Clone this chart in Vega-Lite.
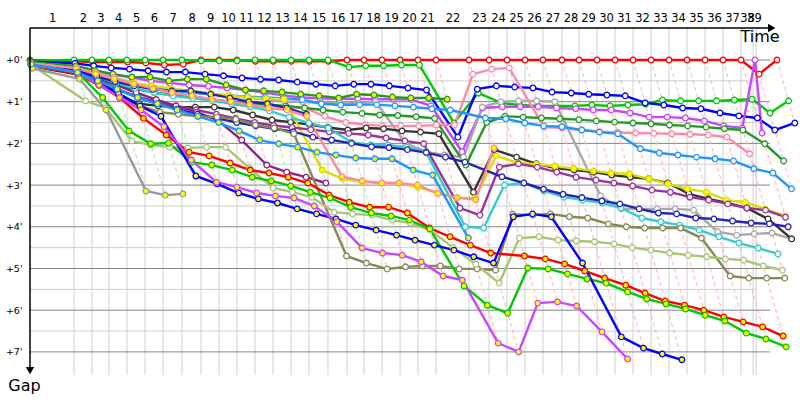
{
"$schema":"https://vega.github.io/schema/vega-lite/v6.json",
"width":770,"height":347,
"autosize":{"type":"none"},
"padding":{"left":30,"top":28,"right":0,"bottom":25},
"background":"#ffffff",
"config":{"view":{"stroke":null},"font":"DejaVu Sans"},
"resolve":{"axis":{"x":"independent","y":"independent"}},
"datasets":{
"laps":[{"lap":1,"t":3.73},{"lap":2,"t":5.25},{"lap":3,"t":6.69},{"lap":4,"t":8.22},{"lap":5,"t":9.75},{"lap":6,"t":11.27},{"lap":7,"t":12.88},{"lap":8,"t":14.49},{"lap":9,"t":16.02},{"lap":10,"t":17.54},{"lap":11,"t":19.07},{"lap":12,"t":20.59},{"lap":13,"t":22.12},{"lap":14,"t":23.64},{"lap":15,"t":25.25},{"lap":16,"t":26.86},{"lap":17,"t":28.31},{"lap":18,"t":29.83},{"lap":19,"t":31.36},{"lap":20,"t":32.88},{"lap":21,"t":34.41},{"lap":22,"t":37.2},{"lap":23,"t":38.9},{"lap":24,"t":40.42},{"lap":25,"t":41.95},{"lap":26,"t":43.47},{"lap":27,"t":45.08},{"lap":28,"t":46.53},{"lap":29,"t":48.05},{"lap":30,"t":49.58},{"lap":31,"t":51.1},{"lap":32,"t":52.63},{"lap":33,"t":54.15},{"lap":34,"t":55.68},{"lap":35,"t":57.2},{"lap":36,"t":58.73},{"lap":37,"t":60.25},{"lap":38,"t":61.27},{"lap":39,"t":61.53}],
"major":[{"gap":0},{"gap":1},{"gap":2},{"gap":3},{"gap":4},{"gap":5},{"gap":6},{"gap":7}],
"minor":[{"gap":0.5},{"gap":1.5},{"gap":2.5},{"gap":3.5},{"gap":4.5},{"gap":5.5},{"gap":6.5}],
"race":[
{"car":"r","lap":0,"t":0,"gap":0},{"car":"r","lap":1,"t":3.76,"gap":0.03},{"car":"r","lap":2,"t":5.3,"gap":0.05},{"car":"r","lap":3,"t":6.74,"gap":0.05},{"car":"r","lap":4,"t":8.27,"gap":0.05},{"car":"r","lap":5,"t":9.82,"gap":0.07},{"car":"r","lap":6,"t":11.39,"gap":0.12},{"car":"r","lap":7,"t":12.98,"gap":0.1},{"car":"r","lap":8,"t":14.49,"gap":0},{"car":"r","lap":9,"t":16.02,"gap":0},{"car":"r","lap":10,"t":17.54,"gap":0},{"car":"r","lap":11,"t":19.1,"gap":0.03},{"car":"r","lap":12,"t":20.62,"gap":0.03},{"car":"r","lap":13,"t":22.15,"gap":0.03},{"car":"r","lap":14,"t":23.67,"gap":0.03},{"car":"r","lap":15,"t":25.28,"gap":0.03},{"car":"r","lap":16,"t":26.86,"gap":0},{"car":"r","lap":17,"t":28.31,"gap":0},{"car":"r","lap":18,"t":29.83,"gap":0},{"car":"r","lap":19,"t":31.36,"gap":0},{"car":"r","lap":20,"t":32.88,"gap":0},{"car":"r","lap":21,"t":34.41,"gap":0},{"car":"r","lap":22,"t":37.2,"gap":0},{"car":"r","lap":23,"t":38.9,"gap":0},{"car":"r","lap":24,"t":40.42,"gap":0},{"car":"r","lap":25,"t":41.95,"gap":0},{"car":"r","lap":26,"t":43.47,"gap":0},{"car":"r","lap":27,"t":45.08,"gap":0},{"car":"r","lap":28,"t":46.53,"gap":0},{"car":"r","lap":29,"t":48.05,"gap":0},{"car":"r","lap":30,"t":49.58,"gap":0},{"car":"r","lap":31,"t":51.1,"gap":0},{"car":"r","lap":32,"t":52.63,"gap":0},{"car":"r","lap":33,"t":54.15,"gap":0},{"car":"r","lap":34,"t":55.68,"gap":0},{"car":"r","lap":35,"t":57.2,"gap":0},{"car":"r","lap":36,"t":58.73,"gap":0},{"car":"r","lap":37,"t":60.25,"gap":0},{"car":"r","lap":38,"t":61.78,"gap":0.34},{"car":"r","lap":39,"t":63.3,"gap":0},
{"car":"g","lap":0,"t":0.02,"gap":0.02},{"car":"g","lap":1,"t":3.73,"gap":0},{"car":"g","lap":2,"t":5.25,"gap":0},{"car":"g","lap":3,"t":6.69,"gap":0},{"car":"g","lap":4,"t":8.22,"gap":0},{"car":"g","lap":5,"t":9.75,"gap":0},{"car":"g","lap":6,"t":11.27,"gap":0},{"car":"g","lap":7,"t":12.88,"gap":0},{"car":"g","lap":8,"t":14.51,"gap":0.02},{"car":"g","lap":9,"t":16.04,"gap":0.02},{"car":"g","lap":10,"t":17.56,"gap":0.02},{"car":"g","lap":11,"t":19.07,"gap":0},{"car":"g","lap":12,"t":20.59,"gap":0},{"car":"g","lap":13,"t":22.12,"gap":0},{"car":"g","lap":14,"t":23.64,"gap":0},{"car":"g","lap":15,"t":25.25,"gap":0},{"car":"g","lap":16,"t":27.03,"gap":0.17},{"car":"g","lap":17,"t":28.45,"gap":0.14},{"car":"g","lap":18,"t":29.97,"gap":0.14},{"car":"g","lap":19,"t":31.48,"gap":0.12},{"car":"g","lap":20,"t":33.0,"gap":0.12},{"car":"g","lap":21,"t":35.92,"gap":1.51},{"car":"g","lap":22,"t":37.99,"gap":0.79},{"car":"g","lap":23,"t":39.93,"gap":1.03},{"car":"g","lap":24,"t":41.5,"gap":1.08},{"car":"g","lap":25,"t":43.05,"gap":1.1},{"car":"g","lap":26,"t":44.57,"gap":1.1},{"car":"g","lap":27,"t":46.18,"gap":1.1},{"car":"g","lap":28,"t":47.61,"gap":1.08},{"car":"g","lap":29,"t":49.15,"gap":1.1},{"car":"g","lap":30,"t":50.66,"gap":1.08},{"car":"g","lap":31,"t":52.16,"gap":1.06},{"car":"g","lap":32,"t":53.59,"gap":0.96},{"car":"g","lap":33,"t":55.13,"gap":0.98},{"car":"g","lap":34,"t":56.66,"gap":0.98},{"car":"g","lap":35,"t":58.18,"gap":0.98},{"car":"g","lap":36,"t":59.69,"gap":0.96},{"car":"g","lap":37,"t":61.19,"gap":0.94},{"car":"g","lap":38,"t":62.71,"gap":1.27},{"car":"g","lap":39,"t":64.28,"gap":0.98},
{"car":"b","lap":0,"t":0.04,"gap":0.04},{"car":"b","lap":1,"t":3.81,"gap":0.08},{"car":"b","lap":2,"t":5.39,"gap":0.14},{"car":"b","lap":3,"t":6.88,"gap":0.19},{"car":"b","lap":4,"t":8.44,"gap":0.22},{"car":"b","lap":5,"t":10.01,"gap":0.26},{"car":"b","lap":6,"t":11.56,"gap":0.29},{"car":"b","lap":7,"t":13.17,"gap":0.29},{"car":"b","lap":8,"t":14.83,"gap":0.34},{"car":"b","lap":9,"t":16.4,"gap":0.38},{"car":"b","lap":10,"t":17.97,"gap":0.43},{"car":"b","lap":11,"t":19.53,"gap":0.46},{"car":"b","lap":12,"t":21.07,"gap":0.48},{"car":"b","lap":13,"t":22.65,"gap":0.53},{"car":"b","lap":14,"t":24.22,"gap":0.58},{"car":"b","lap":15,"t":25.87,"gap":0.62},{"car":"b","lap":16,"t":27.44,"gap":0.58},{"car":"b","lap":17,"t":28.89,"gap":0.58},{"car":"b","lap":18,"t":30.45,"gap":0.62},{"car":"b","lap":19,"t":32.03,"gap":0.67},{"car":"b","lap":20,"t":33.6,"gap":0.72},{"car":"b","lap":21,"t":36.26,"gap":1.85},{"car":"b","lap":22,"t":37.9,"gap":0.7},{"car":"b","lap":23,"t":39.52,"gap":0.62},{"car":"b","lap":24,"t":41.07,"gap":0.65},{"car":"b","lap":25,"t":42.62,"gap":0.67},{"car":"b","lap":26,"t":44.24,"gap":0.77},{"car":"b","lap":27,"t":45.87,"gap":0.79},{"car":"b","lap":28,"t":47.35,"gap":0.82},{"car":"b","lap":29,"t":48.89,"gap":0.84},{"car":"b","lap":30,"t":50.44,"gap":0.86},{"car":"b","lap":31,"t":52.13,"gap":1.03},{"car":"b","lap":32,"t":53.71,"gap":1.08},{"car":"b","lap":33,"t":55.3,"gap":1.15},{"car":"b","lap":34,"t":56.85,"gap":1.17},{"car":"b","lap":35,"t":58.47,"gap":1.27},{"car":"b","lap":36,"t":60.07,"gap":1.34},{"car":"b","lap":37,"t":61.64,"gap":1.39},{"car":"b","lap":38,"t":63.12,"gap":1.68},{"car":"b","lap":39,"t":64.81,"gap":1.51},
{"car":"v","lap":0,"t":0.06,"gap":0.06},{"car":"v","lap":1,"t":3.88,"gap":0.15},{"car":"v","lap":2,"t":5.5,"gap":0.25},{"car":"v","lap":3,"t":7.04,"gap":0.35},{"car":"v","lap":4,"t":8.64,"gap":0.42},{"car":"v","lap":5,"t":10.25,"gap":0.5},{"car":"v","lap":6,"t":11.82,"gap":0.55},{"car":"v","lap":7,"t":13.48,"gap":0.6},{"car":"v","lap":8,"t":15.12,"gap":0.63},{"car":"v","lap":9,"t":16.69,"gap":0.67},{"car":"v","lap":10,"t":18.26,"gap":0.72},{"car":"v","lap":11,"t":19.85,"gap":0.78},{"car":"v","lap":12,"t":21.44,"gap":0.85},{"car":"v","lap":13,"t":23.02,"gap":0.9},{"car":"v","lap":14,"t":24.56,"gap":0.92},{"car":"v","lap":15,"t":26.18,"gap":0.93},{"car":"v","lap":16,"t":27.79,"gap":0.93},{"car":"v","lap":17,"t":29.25,"gap":0.94},{"car":"v","lap":18,"t":30.77,"gap":0.94},{"car":"v","lap":19,"t":32.31,"gap":0.95},{"car":"v","lap":20,"t":33.98,"gap":1.1},{"car":"v","lap":21,"t":36.61,"gap":2.2},{"car":"v","lap":22,"t":38.35,"gap":1.15},{"car":"v","lap":23,"t":40.02,"gap":1.12},{"car":"v","lap":24,"t":41.54,"gap":1.12},{"car":"v","lap":25,"t":43.07,"gap":1.12},{"car":"v","lap":26,"t":44.62,"gap":1.15},{"car":"v","lap":27,"t":46.25,"gap":1.17},{"car":"v","lap":28,"t":47.73,"gap":1.2},{"car":"v","lap":29,"t":49.25,"gap":1.2},{"car":"v","lap":30,"t":50.85,"gap":1.27},{"car":"v","lap":31,"t":52.47,"gap":1.37},{"car":"v","lap":32,"t":54.0,"gap":1.37},{"car":"v","lap":33,"t":55.54,"gap":1.39},{"car":"v","lap":34,"t":57.14,"gap":1.46},{"car":"v","lap":35,"t":58.78,"gap":1.58},{"car":"v","lap":36,"t":60.36,"gap":1.63},{"car":"v","lap":38,"t":61.44,"gap":0},{"car":"v","lap":39,"t":62.03,"gap":1.75},
{"car":"dgy","lap":0,"t":0.05,"gap":0.05},{"car":"dgy","lap":1,"t":3.88,"gap":0.15},{"car":"dgy","lap":2,"t":5.5,"gap":0.25},{"car":"dgy","lap":3,"t":7.03,"gap":0.34},{"car":"dgy","lap":4,"t":8.63,"gap":0.41},{"car":"dgy","lap":5,"t":10.16,"gap":0.41},{"car":"dgy","lap":6,"t":11.77,"gap":0.5},{"car":"dgy","lap":7,"t":13.34,"gap":0.46},{"car":"dgy","lap":8,"t":14.95,"gap":0.46},{"car":"dgy","lap":9,"t":16.62,"gap":0.6},{"car":"dgy","lap":10,"t":18.26,"gap":0.72},{"car":"dgy","lap":11,"t":19.81,"gap":0.74},{"car":"dgy","lap":12,"t":21.36,"gap":0.77},{"car":"dgy","lap":13,"t":22.94,"gap":0.82},{"car":"dgy","lap":14,"t":24.5,"gap":0.86},{"car":"dgy","lap":15,"t":26.16,"gap":0.91},{"car":"dgy","lap":16,"t":27.68,"gap":0.82},{"car":"dgy","lap":17,"t":29.15,"gap":0.84},{"car":"dgy","lap":18,"t":30.72,"gap":0.89},{"car":"dgy","lap":19,"t":32.27,"gap":0.91},{"car":"dgy","lap":20,"t":33.79,"gap":0.91},{"car":"dgy","lap":21,"t":35.35,"gap":0.94},
{"car":"gl","lap":0,"t":0.08,"gap":0.08},{"car":"gl","lap":1,"t":3.93,"gap":0.2},{"car":"gl","lap":2,"t":5.55,"gap":0.3},{"car":"gl","lap":3,"t":7.11,"gap":0.42},{"car":"gl","lap":4,"t":8.77,"gap":0.55},{"car":"gl","lap":5,"t":10.4,"gap":0.65},{"car":"gl","lap":6,"t":11.99,"gap":0.72},{"car":"gl","lap":7,"t":13.66,"gap":0.78},{"car":"gl","lap":8,"t":15.31,"gap":0.82},{"car":"gl","lap":9,"t":16.88,"gap":0.86},{"car":"gl","lap":10,"t":18.44,"gap":0.9},{"car":"gl","lap":11,"t":20.02,"gap":0.95},{"car":"gl","lap":12,"t":21.59,"gap":1.0},{"car":"gl","lap":13,"t":23.12,"gap":1.0},{"car":"gl","lap":14,"t":24.67,"gap":1.03},{"car":"gl","lap":15,"t":26.28,"gap":1.03},{"car":"gl","lap":16,"t":27.89,"gap":1.03},{"car":"gl","lap":17,"t":29.31,"gap":1.0},{"car":"gl","lap":18,"t":31.83,"gap":2.0},{"car":"gl","lap":19,"t":33.56,"gap":2.2},{"car":"gl","lap":20,"t":35.16,"gap":2.28},{"car":"gl","lap":21,"t":36.74,"gap":2.33},{"car":"gl","lap":22,"t":38.33,"gap":1.13},{"car":"gl","lap":23,"t":39.9,"gap":1.0},{"car":"gl","lap":24,"t":41.4,"gap":0.98},{"car":"gl","lap":25,"t":42.93,"gap":0.98},{"car":"gl","lap":26,"t":44.47,"gap":1.0},{"car":"gl","lap":27,"t":48.34,"gap":3.26},{"car":"gl","lap":28,"t":50.1,"gap":3.57},{"car":"gl","lap":29,"t":51.62,"gap":3.57},{"car":"gl","lap":30,"t":53.15,"gap":3.57},{"car":"gl","lap":31,"t":54.67,"gap":3.57},{"car":"gl","lap":32,"t":56.23,"gap":3.6},{"car":"gl","lap":33,"t":58.27,"gap":4.12},{"car":"gl","lap":34,"t":59.88,"gap":4.2},{"car":"gl","lap":35,"t":61.37,"gap":4.17},{"car":"gl","lap":36,"t":62.88,"gap":4.15},{"car":"gl","lap":37,"t":64.54,"gap":4.29},
{"car":"pk","lap":0,"t":0.1,"gap":0.1},{"car":"pk","lap":1,"t":3.95,"gap":0.22},{"car":"pk","lap":2,"t":5.6,"gap":0.35},{"car":"pk","lap":3,"t":7.17,"gap":0.48},{"car":"pk","lap":4,"t":8.82,"gap":0.6},{"car":"pk","lap":5,"t":10.45,"gap":0.7},{"car":"pk","lap":6,"t":12.07,"gap":0.8},{"car":"pk","lap":7,"t":13.76,"gap":0.88},{"car":"pk","lap":8,"t":15.44,"gap":0.95},{"car":"pk","lap":9,"t":17.02,"gap":1.0},{"car":"pk","lap":10,"t":18.59,"gap":1.05},{"car":"pk","lap":11,"t":20.17,"gap":1.1},{"car":"pk","lap":12,"t":21.71,"gap":1.12},{"car":"pk","lap":13,"t":23.27,"gap":1.15},{"car":"pk","lap":14,"t":24.99,"gap":1.35},{"car":"pk","lap":15,"t":26.75,"gap":1.5},{"car":"pk","lap":16,"t":28.41,"gap":1.55},{"car":"pk","lap":17,"t":29.89,"gap":1.58},{"car":"pk","lap":18,"t":31.41,"gap":1.58},{"car":"pk","lap":19,"t":32.94,"gap":1.58},{"car":"pk","lap":20,"t":34.44,"gap":1.56},{"car":"pk","lap":21,"t":35.97,"gap":1.56},{"car":"pk","lap":22,"t":37.54,"gap":0.34},{"car":"pk","lap":23,"t":39.12,"gap":0.22},{"car":"pk","lap":24,"t":40.61,"gap":0.19},{"car":"pk","lap":25,"t":43.56,"gap":1.61},{"car":"pk","lap":26,"t":45.1,"gap":1.63},{"car":"pk","lap":27,"t":46.76,"gap":1.68},{"car":"pk","lap":28,"t":48.25,"gap":1.72},{"car":"pk","lap":29,"t":49.79,"gap":1.74},{"car":"pk","lap":30,"t":51.33,"gap":1.75},{"car":"pk","lap":31,"t":52.86,"gap":1.76},{"car":"pk","lap":32,"t":54.4,"gap":1.77},{"car":"pk","lap":33,"t":55.93,"gap":1.78},{"car":"pk","lap":34,"t":57.48,"gap":1.8},{"car":"pk","lap":35,"t":59.05,"gap":1.85},{"car":"pk","lap":36,"t":60.98,"gap":2.25},
{"car":"dg","lap":0,"t":0.12,"gap":0.12},{"car":"dg","lap":1,"t":4.03,"gap":0.3},{"car":"dg","lap":2,"t":5.7,"gap":0.45},{"car":"dg","lap":3,"t":7.29,"gap":0.6},{"car":"dg","lap":4,"t":8.92,"gap":0.7},{"car":"dg","lap":5,"t":10.53,"gap":0.78},{"car":"dg","lap":6,"t":12.12,"gap":0.85},{"car":"dg","lap":7,"t":13.78,"gap":0.9},{"car":"dg","lap":8,"t":15.44,"gap":0.95},{"car":"dg","lap":9,"t":17.02,"gap":1.0},{"car":"dg","lap":10,"t":18.57,"gap":1.03},{"car":"dg","lap":11,"t":20.14,"gap":1.07},{"car":"dg","lap":12,"t":21.69,"gap":1.1},{"car":"dg","lap":13,"t":23.27,"gap":1.15},{"car":"dg","lap":14,"t":24.84,"gap":1.2},{"car":"dg","lap":15,"t":26.5,"gap":1.25},{"car":"dg","lap":16,"t":28.14,"gap":1.28},{"car":"dg","lap":17,"t":29.63,"gap":1.32},{"car":"dg","lap":18,"t":31.16,"gap":1.33},{"car":"dg","lap":19,"t":32.72,"gap":1.36},{"car":"dg","lap":20,"t":34.28,"gap":1.4},{"car":"dg","lap":21,"t":36.93,"gap":2.52},{"car":"dg","lap":22,"t":38.7,"gap":1.5},{"car":"dg","lap":23,"t":40.25,"gap":1.35},{"car":"dg","lap":24,"t":41.79,"gap":1.37},{"car":"dg","lap":25,"t":43.34,"gap":1.39},{"car":"dg","lap":26,"t":44.88,"gap":1.41},{"car":"dg","lap":27,"t":46.51,"gap":1.43},{"car":"dg","lap":28,"t":47.99,"gap":1.46},{"car":"dg","lap":29,"t":49.54,"gap":1.49},{"car":"dg","lap":30,"t":51.09,"gap":1.51},{"car":"dg","lap":31,"t":52.63,"gap":1.53},{"car":"dg","lap":32,"t":54.19,"gap":1.56},{"car":"dg","lap":33,"t":55.73,"gap":1.58},{"car":"dg","lap":34,"t":57.29,"gap":1.61},{"car":"dg","lap":35,"t":58.85,"gap":1.65},{"car":"dg","lap":36,"t":60.41,"gap":1.68},{"car":"dg","lap":37,"t":62.26,"gap":2.01},{"car":"dg","lap":38,"t":63.86,"gap":2.42},
{"car":"lb","lap":0,"t":0.1,"gap":0.1},{"car":"lb","lap":1,"t":3.98,"gap":0.25},{"car":"lb","lap":2,"t":5.63,"gap":0.38},{"car":"lb","lap":3,"t":7.19,"gap":0.5},{"car":"lb","lap":4,"t":8.82,"gap":0.6},{"car":"lb","lap":5,"t":10.43,"gap":0.68},{"car":"lb","lap":6,"t":12.01,"gap":0.74},{"car":"lb","lap":7,"t":13.66,"gap":0.78},{"car":"lb","lap":8,"t":15.31,"gap":0.82},{"car":"lb","lap":9,"t":16.87,"gap":0.85},{"car":"lb","lap":10,"t":18.42,"gap":0.88},{"car":"lb","lap":11,"t":19.97,"gap":0.9},{"car":"lb","lap":12,"t":21.51,"gap":0.92},{"car":"lb","lap":13,"t":23.07,"gap":0.95},{"car":"lb","lap":14,"t":24.69,"gap":1.05},{"car":"lb","lap":15,"t":26.33,"gap":1.08},{"car":"lb","lap":16,"t":27.93,"gap":1.07},{"car":"lb","lap":17,"t":29.38,"gap":1.07},{"car":"lb","lap":18,"t":30.93,"gap":1.1},{"car":"lb","lap":19,"t":32.49,"gap":1.13},{"car":"lb","lap":20,"t":34.05,"gap":1.17},{"car":"lb","lap":21,"t":35.61,"gap":1.2},{"car":"lb","lap":22,"t":38.59,"gap":1.39},{"car":"lb","lap":23,"t":40.31,"gap":1.41},{"car":"lb","lap":24,"t":41.93,"gap":1.51},{"car":"lb","lap":25,"t":43.53,"gap":1.58},{"car":"lb","lap":26,"t":45.07,"gap":1.6},{"car":"lb","lap":27,"t":46.76,"gap":1.68},{"car":"lb","lap":28,"t":48.26,"gap":1.73},{"car":"lb","lap":29,"t":49.82,"gap":1.77},{"car":"lb","lap":30,"t":51.71,"gap":2.13},{"car":"lb","lap":31,"t":53.33,"gap":2.23},{"car":"lb","lap":32,"t":54.91,"gap":2.28},{"car":"lb","lap":33,"t":56.48,"gap":2.33},{"car":"lb","lap":34,"t":58.05,"gap":2.37},{"car":"lb","lap":35,"t":59.62,"gap":2.42},{"car":"lb","lap":36,"t":61.34,"gap":2.61},{"car":"lb","lap":37,"t":62.96,"gap":2.71},{"car":"lb","lap":38,"t":64.53,"gap":3.09},
{"car":"k","lap":0,"t":0.15,"gap":0.15},{"car":"k","lap":1,"t":4.08,"gap":0.35},{"car":"k","lap":2,"t":5.85,"gap":0.6},{"car":"k","lap":3,"t":7.54,"gap":0.85},{"car":"k","lap":4,"t":9.27,"gap":1.05},{"car":"k","lap":5,"t":10.85,"gap":1.1},{"car":"k","lap":6,"t":12.4,"gap":1.13},{"car":"k","lap":7,"t":14.01,"gap":1.13},{"car":"k","lap":8,"t":15.62,"gap":1.13},{"car":"k","lap":9,"t":17.22,"gap":1.2},{"car":"k","lap":10,"t":18.86,"gap":1.32},{"car":"k","lap":11,"t":20.51,"gap":1.44},{"car":"k","lap":12,"t":22.08,"gap":1.49},{"car":"k","lap":13,"t":23.67,"gap":1.55},{"car":"k","lap":14,"t":25.26,"gap":1.62},{"car":"k","lap":15,"t":26.93,"gap":1.68},{"car":"k","lap":16,"t":28.49,"gap":1.63},{"car":"k","lap":17,"t":29.96,"gap":1.65},{"car":"k","lap":18,"t":31.53,"gap":1.7},{"car":"k","lap":19,"t":33.09,"gap":1.73},{"car":"k","lap":20,"t":34.65,"gap":1.77},{"car":"k","lap":21,"t":37.58,"gap":3.17},{"car":"k","lap":22,"t":39.35,"gap":2.15},{"car":"k","lap":23,"t":41.23,"gap":2.33},{"car":"k","lap":24,"t":42.91,"gap":2.49},{"car":"k","lap":25,"t":44.54,"gap":2.59},{"car":"k","lap":26,"t":46.11,"gap":2.64},{"car":"k","lap":27,"t":47.77,"gap":2.69},{"car":"k","lap":28,"t":49.29,"gap":2.76},{"car":"k","lap":29,"t":50.86,"gap":2.81},{"car":"k","lap":30,"t":52.43,"gap":2.85},{"car":"k","lap":31,"t":54.05,"gap":2.95},{"car":"k","lap":32,"t":55.84,"gap":3.21},{"car":"k","lap":33,"t":57.48,"gap":3.33},{"car":"k","lap":34,"t":59.11,"gap":3.43},{"car":"k","lap":35,"t":60.75,"gap":3.55},{"car":"k","lap":36,"t":62.54,"gap":3.81},{"car":"k","lap":37,"t":64.54,"gap":4.29},
{"car":"y","lap":0,"t":0.08,"gap":0.08},{"car":"y","lap":1,"t":3.93,"gap":0.2},{"car":"y","lap":2,"t":5.57,"gap":0.32},{"car":"y","lap":3,"t":7.14,"gap":0.45},{"car":"y","lap":4,"t":8.77,"gap":0.55},{"car":"y","lap":5,"t":10.37,"gap":0.62},{"car":"y","lap":6,"t":11.95,"gap":0.68},{"car":"y","lap":7,"t":13.62,"gap":0.74},{"car":"y","lap":8,"t":15.29,"gap":0.8},{"car":"y","lap":9,"t":16.87,"gap":0.85},{"car":"y","lap":10,"t":18.44,"gap":0.9},{"car":"y","lap":11,"t":19.99,"gap":0.92},{"car":"y","lap":12,"t":21.53,"gap":0.94},{"car":"y","lap":13,"t":24.76,"gap":2.64},{"car":"y","lap":14,"t":26.49,"gap":2.85},{"car":"y","lap":15,"t":28.18,"gap":2.93},{"car":"y","lap":16,"t":29.81,"gap":2.95},{"car":"y","lap":17,"t":31.26,"gap":2.95},{"car":"y","lap":18,"t":32.88,"gap":3.05},{"car":"y","lap":19,"t":34.55,"gap":3.19},{"car":"y","lap":20,"t":36.19,"gap":3.31},{"car":"y","lap":21,"t":37.72,"gap":3.31},{"car":"y","lap":22,"t":39.5,"gap":2.3},{"car":"y","lap":23,"t":41.37,"gap":2.47},{"car":"y","lap":24,"t":42.92,"gap":2.5},{"car":"y","lap":25,"t":44.5,"gap":2.55},{"car":"y","lap":26,"t":46.07,"gap":2.6},{"car":"y","lap":27,"t":47.74,"gap":2.66},{"car":"y","lap":28,"t":49.24,"gap":2.71},{"car":"y","lap":29,"t":50.78,"gap":2.73},{"car":"y","lap":30,"t":52.43,"gap":2.85},{"car":"y","lap":31,"t":54.07,"gap":2.97},{"car":"y","lap":32,"t":55.72,"gap":3.09},{"car":"y","lap":33,"t":57.32,"gap":3.17},{"car":"y","lap":34,"t":59.04,"gap":3.36},{"car":"y","lap":35,"t":60.61,"gap":3.41},{"car":"y","lap":36,"t":62.3,"gap":3.57},{"car":"y","lap":37,"t":63.99,"gap":3.74},
{"car":"dp","lap":0,"t":0.12,"gap":0.12},{"car":"dp","lap":1,"t":4.03,"gap":0.3},{"car":"dp","lap":2,"t":5.75,"gap":0.5},{"car":"dp","lap":3,"t":7.39,"gap":0.7},{"car":"dp","lap":4,"t":9.1,"gap":0.88},{"car":"dp","lap":5,"t":10.75,"gap":1.0},{"car":"dp","lap":6,"t":12.37,"gap":1.1},{"car":"dp","lap":7,"t":14.08,"gap":1.2},{"car":"dp","lap":8,"t":15.79,"gap":1.3},{"car":"dp","lap":9,"t":17.42,"gap":1.4},{"car":"dp","lap":10,"t":19.04,"gap":1.5},{"car":"dp","lap":11,"t":20.64,"gap":1.57},{"car":"dp","lap":12,"t":22.21,"gap":1.62},{"car":"dp","lap":13,"t":23.79,"gap":1.67},{"car":"dp","lap":14,"t":25.36,"gap":1.72},{"car":"dp","lap":15,"t":27.01,"gap":1.76},{"car":"dp","lap":16,"t":28.66,"gap":1.8},{"car":"dp","lap":17,"t":30.18,"gap":1.87},{"car":"dp","lap":18,"t":31.77,"gap":1.94},{"car":"dp","lap":19,"t":33.37,"gap":2.01},{"car":"dp","lap":20,"t":36.43,"gap":3.55},{"car":"dp","lap":21,"t":38.13,"gap":3.72},{"car":"dp","lap":22,"t":39.77,"gap":2.57},{"car":"dp","lap":23,"t":41.39,"gap":2.49},{"car":"dp","lap":24,"t":42.99,"gap":2.57},{"car":"dp","lap":25,"t":44.64,"gap":2.69},{"car":"dp","lap":26,"t":46.28,"gap":2.81},{"car":"dp","lap":27,"t":47.96,"gap":2.88},{"car":"dp","lap":28,"t":49.48,"gap":2.95},{"car":"dp","lap":29,"t":51.07,"gap":3.02},{"car":"dp","lap":30,"t":52.7,"gap":3.12},{"car":"dp","lap":31,"t":54.27,"gap":3.17},{"car":"dp","lap":32,"t":55.92,"gap":3.29},{"car":"dp","lap":33,"t":57.51,"gap":3.36},{"car":"dp","lap":34,"t":59.13,"gap":3.45},{"car":"dp","lap":35,"t":60.75,"gap":3.55},{"car":"dp","lap":36,"t":62.33,"gap":3.6},{"car":"dp","lap":37,"t":64.02,"gap":3.77},
{"car":"pb","lap":0,"t":0.1,"gap":0.1},{"car":"pb","lap":1,"t":3.98,"gap":0.25},{"car":"pb","lap":2,"t":5.67,"gap":0.42},{"car":"pb","lap":3,"t":7.29,"gap":0.6},{"car":"pb","lap":4,"t":9.0,"gap":0.78},{"car":"pb","lap":5,"t":10.7,"gap":0.95},{"car":"pb","lap":6,"t":12.37,"gap":1.1},{"car":"pb","lap":7,"t":14.13,"gap":1.25},{"car":"pb","lap":8,"t":15.94,"gap":1.45},{"car":"pb","lap":9,"t":17.94,"gap":1.92},{"car":"pb","lap":10,"t":20.06,"gap":2.52},{"car":"pb","lap":11,"t":21.76,"gap":2.69},{"car":"pb","lap":12,"t":23.4,"gap":2.81},{"car":"pb","lap":13,"t":25.07,"gap":2.95},
{"car":"c","lap":0,"t":0.1,"gap":0.1},{"car":"c","lap":1,"t":3.98,"gap":0.25},{"car":"c","lap":2,"t":5.65,"gap":0.4},{"car":"c","lap":3,"t":7.24,"gap":0.55},{"car":"c","lap":4,"t":8.9,"gap":0.68},{"car":"c","lap":5,"t":10.53,"gap":0.78},{"car":"c","lap":6,"t":12.13,"gap":0.86},{"car":"c","lap":7,"t":13.8,"gap":0.92},{"car":"c","lap":8,"t":15.47,"gap":0.98},{"car":"c","lap":9,"t":17.07,"gap":1.05},{"car":"c","lap":10,"t":18.66,"gap":1.12},{"car":"c","lap":11,"t":20.29,"gap":1.22},{"car":"c","lap":12,"t":21.96,"gap":1.37},{"car":"c","lap":13,"t":23.63,"gap":1.51},{"car":"c","lap":14,"t":25.27,"gap":1.63},{"car":"c","lap":15,"t":27.22,"gap":1.97},{"car":"c","lap":16,"t":28.9,"gap":2.04},{"car":"c","lap":17,"t":30.35,"gap":2.04},{"car":"c","lap":18,"t":31.92,"gap":2.09},{"car":"c","lap":19,"t":33.57,"gap":2.21},{"car":"c","lap":20,"t":36.88,"gap":4.0},{"car":"c","lap":21,"t":38.44,"gap":4.03},{"car":"c","lap":22,"t":40.2,"gap":3.0},{"car":"c","lap":23,"t":41.85,"gap":2.95},{"car":"c","lap":24,"t":43.56,"gap":3.14},{"car":"c","lap":25,"t":45.24,"gap":3.29},{"car":"c","lap":26,"t":46.83,"gap":3.36},{"car":"c","lap":27,"t":48.51,"gap":3.43},{"car":"c","lap":28,"t":50.08,"gap":3.55},{"car":"c","lap":29,"t":51.84,"gap":3.79},{"car":"c","lap":30,"t":53.46,"gap":3.88},{"car":"c","lap":31,"t":55.06,"gap":3.96},{"car":"c","lap":32,"t":56.71,"gap":4.08},{"car":"c","lap":33,"t":58.39,"gap":4.24},{"car":"c","lap":34,"t":60.07,"gap":4.39},{"car":"c","lap":35,"t":61.71,"gap":4.51},{"car":"c","lap":36,"t":63.38,"gap":4.65},
{"car":"n","lap":0,"t":0.12,"gap":0.12},{"car":"n","lap":1,"t":4.03,"gap":0.3},{"car":"n","lap":2,"t":5.75,"gap":0.5},{"car":"n","lap":3,"t":7.39,"gap":0.7},{"car":"n","lap":4,"t":9.12,"gap":0.9},{"car":"n","lap":5,"t":10.8,"gap":1.05},{"car":"n","lap":6,"t":12.45,"gap":1.18},{"car":"n","lap":7,"t":14.18,"gap":1.3},{"car":"n","lap":8,"t":15.89,"gap":1.4},{"car":"n","lap":9,"t":17.52,"gap":1.5},{"car":"n","lap":10,"t":19.12,"gap":1.58},{"car":"n","lap":11,"t":20.72,"gap":1.65},{"car":"n","lap":12,"t":22.31,"gap":1.72},{"car":"n","lap":13,"t":23.97,"gap":1.85},{"car":"n","lap":14,"t":25.56,"gap":1.92},{"car":"n","lap":15,"t":27.25,"gap":2.0},{"car":"n","lap":16,"t":28.94,"gap":2.08},{"car":"n","lap":17,"t":30.41,"gap":2.1},{"car":"n","lap":18,"t":31.98,"gap":2.15},{"car":"n","lap":19,"t":33.58,"gap":2.22},{"car":"n","lap":20,"t":35.21,"gap":2.33},{"car":"n","lap":21,"t":36.86,"gap":2.45},{"car":"n","lap":22,"t":40.0,"gap":2.8},{"car":"n","lap":23,"t":41.85,"gap":2.95},{"car":"n","lap":24,"t":43.52,"gap":3.1},{"car":"n","lap":25,"t":45.17,"gap":3.22},{"car":"n","lap":26,"t":46.77,"gap":3.3},{"car":"n","lap":27,"t":48.46,"gap":3.38},{"car":"n","lap":28,"t":49.98,"gap":3.45},{"car":"n","lap":29,"t":51.62,"gap":3.57},{"car":"n","lap":30,"t":53.25,"gap":3.67},{"car":"n","lap":31,"t":54.79,"gap":3.69},{"car":"n","lap":32,"t":56.42,"gap":3.79},{"car":"n","lap":33,"t":57.96,"gap":3.81},{"car":"n","lap":34,"t":59.54,"gap":3.86},{"car":"n","lap":35,"t":61.11,"gap":3.91},{"car":"n","lap":36,"t":62.66,"gap":3.93},{"car":"n","lap":37,"t":64.25,"gap":4.0},
{"car":"ny","lap":0,"t":0.1,"gap":0.1},{"car":"ny","lap":1,"t":3.98,"gap":0.25},{"car":"ny","lap":2,"t":5.65,"gap":0.4},{"car":"ny","lap":3,"t":7.21,"gap":0.52},{"car":"ny","lap":4,"t":8.84,"gap":0.62},{"car":"ny","lap":5,"t":10.45,"gap":0.7},{"car":"ny","lap":6,"t":12.01,"gap":0.74},{"car":"ny","lap":7,"t":13.62,"gap":0.74},{"car":"ny","lap":8,"t":15.31,"gap":0.82},{"car":"ny","lap":9,"t":16.93,"gap":0.91},{"car":"ny","lap":10,"t":18.54,"gap":1.0},{"car":"ny","lap":11,"t":20.12,"gap":1.05},{"car":"ny","lap":12,"t":21.74,"gap":1.15},{"car":"ny","lap":13,"t":23.42,"gap":1.3},
{"car":"o","lap":0,"t":0.15,"gap":0.15},{"car":"o","lap":1,"t":4.03,"gap":0.3},{"car":"o","lap":2,"t":5.85,"gap":0.6},{"car":"o","lap":3,"t":7.59,"gap":0.9},{"car":"o","lap":4,"t":9.32,"gap":1.1},{"car":"o","lap":5,"t":11.0,"gap":1.25},{"car":"o","lap":6,"t":12.57,"gap":1.3},{"car":"o","lap":7,"t":14.23,"gap":1.35},{"car":"o","lap":8,"t":15.86,"gap":1.37},{"car":"o","lap":9,"t":17.44,"gap":1.42},{"car":"o","lap":10,"t":19.1,"gap":1.56},{"car":"o","lap":11,"t":20.7,"gap":1.63},{"car":"o","lap":12,"t":22.36,"gap":1.77},{"car":"o","lap":13,"t":26.82,"gap":4.7},{"car":"o","lap":14,"t":28.51,"gap":4.87},{"car":"o","lap":15,"t":30.26,"gap":5.01},{"car":"o","lap":16,"t":31.82,"gap":4.96},{"car":"o","lap":17,"t":33.25,"gap":4.94},{"car":"o","lap":18,"t":34.77,"gap":4.94},{"car":"o","lap":19,"t":36.37,"gap":5.01},{"car":"o","lap":20,"t":37.89,"gap":5.01},{"car":"o","lap":21,"t":39.45,"gap":5.04},{"car":"o","lap":22,"t":40.9,"gap":3.7},{"car":"o","lap":23,"t":42.62,"gap":3.72},{"car":"o","lap":24,"t":44.11,"gap":3.69},{"car":"o","lap":25,"t":45.71,"gap":3.76},{"car":"o","lap":26,"t":47.26,"gap":3.79},{"car":"o","lap":27,"t":49.01,"gap":3.93},{"car":"o","lap":28,"t":50.53,"gap":4.0},{"car":"o","lap":29,"t":52.08,"gap":4.03},{"car":"o","lap":30,"t":53.61,"gap":4.03},{"car":"o","lap":31,"t":55.13,"gap":4.03},{"car":"o","lap":32,"t":56.9,"gap":4.27},{"car":"o","lap":33,"t":59.33,"gap":5.18},{"car":"o","lap":34,"t":60.91,"gap":5.23},{"car":"o","lap":35,"t":62.43,"gap":5.23},{"car":"o","lap":36,"t":63.96,"gap":5.23},
{"car":"lg","lap":0,"t":0.12,"gap":0.12},{"car":"lg","lap":1,"t":4.71,"gap":0.98},{"car":"lg","lap":2,"t":6.4,"gap":1.15},{"car":"lg","lap":3,"t":8.63,"gap":1.94},{"car":"lg","lap":4,"t":10.26,"gap":2.04},{"car":"lg","lap":5,"t":11.84,"gap":2.09},{"car":"lg","lap":6,"t":13.38,"gap":2.11},{"car":"lg","lap":7,"t":14.97,"gap":2.09},{"car":"lg","lap":8,"t":16.58,"gap":2.09},{"car":"lg","lap":9,"t":18.62,"gap":2.6},{"car":"lg","lap":10,"t":20.61,"gap":3.07},{"car":"lg","lap":11,"t":22.24,"gap":3.17},{"car":"lg","lap":12,"t":23.88,"gap":3.29},{"car":"lg","lap":13,"t":25.77,"gap":3.65},{"car":"lg","lap":14,"t":27.33,"gap":3.69},{"car":"lg","lap":15,"t":28.97,"gap":3.72},{"car":"lg","lap":16,"t":30.7,"gap":3.84},{"car":"lg","lap":17,"t":32.22,"gap":3.91},{"car":"lg","lap":18,"t":33.91,"gap":4.08},{"car":"lg","lap":19,"t":35.86,"gap":4.5},{"car":"lg","lap":20,"t":37.78,"gap":4.9},{"car":"lg","lap":21,"t":39.76,"gap":5.35},{"car":"lg","lap":22,"t":41.47,"gap":4.27},{"car":"lg","lap":23,"t":43.14,"gap":4.24},{"car":"lg","lap":24,"t":44.74,"gap":4.32},{"car":"lg","lap":25,"t":46.29,"gap":4.34},{"car":"lg","lap":26,"t":47.83,"gap":4.36},{"car":"lg","lap":27,"t":49.49,"gap":4.41},{"car":"lg","lap":28,"t":51.03,"gap":4.5},{"car":"lg","lap":29,"t":52.61,"gap":4.56},{"car":"lg","lap":30,"t":54.21,"gap":4.63},{"car":"lg","lap":31,"t":55.78,"gap":4.68},{"car":"lg","lap":32,"t":57.35,"gap":4.72},{"car":"lg","lap":33,"t":58.92,"gap":4.77},{"car":"lg","lap":34,"t":60.48,"gap":4.8},{"car":"lg","lap":35,"t":62.14,"gap":4.94},{"car":"lg","lap":36,"t":63.77,"gap":5.04},
{"car":"r2","lap":0,"t":0.1,"gap":0.1},{"car":"r2","lap":1,"t":4.08,"gap":0.35},{"car":"r2","lap":2,"t":5.85,"gap":0.6},{"car":"r2","lap":3,"t":7.59,"gap":0.9},{"car":"r2","lap":4,"t":9.62,"gap":1.4},{"car":"r2","lap":5,"t":11.55,"gap":1.8},{"car":"r2","lap":6,"t":13.48,"gap":2.21},{"car":"r2","lap":7,"t":15.18,"gap":2.3},{"car":"r2","lap":8,"t":16.96,"gap":2.47},{"car":"r2","lap":9,"t":18.66,"gap":2.64},{"car":"r2","lap":10,"t":20.25,"gap":2.71},{"car":"r2","lap":11,"t":21.88,"gap":2.81},{"car":"r2","lap":12,"t":23.54,"gap":2.95},{"car":"r2","lap":13,"t":25.36,"gap":3.24},{"car":"r2","lap":14,"t":27.05,"gap":3.41},{"car":"r2","lap":15,"t":28.78,"gap":3.53},{"car":"r2","lap":16,"t":30.39,"gap":3.53},{"car":"r2","lap":17,"t":31.98,"gap":3.67},{"car":"r2","lap":18,"t":33.86,"gap":4.03},{"car":"r2","lap":19,"t":35.6,"gap":4.24},{"car":"r2","lap":20,"t":37.32,"gap":4.44},{"car":"r2","lap":21,"t":39.04,"gap":4.63},{"car":"r2","lap":22,"t":41.9,"gap":4.7},{"car":"r2","lap":23,"t":43.67,"gap":4.77},{"car":"r2","lap":24,"t":45.31,"gap":4.89},{"car":"r2","lap":25,"t":47.01,"gap":5.06},{"car":"r2","lap":26,"t":48.7,"gap":5.23},{"car":"r2","lap":27,"t":50.48,"gap":5.4},{"car":"r2","lap":28,"t":52.12,"gap":5.59},{"car":"r2","lap":29,"t":53.83,"gap":5.78},{"car":"r2","lap":30,"t":55.46,"gap":5.88},{"car":"r2","lap":31,"t":57.1,"gap":6.0},{"car":"r2","lap":32,"t":58.79,"gap":6.16},{"car":"r2","lap":33,"t":60.43,"gap":6.28},{"car":"r2","lap":34,"t":62.08,"gap":6.4},{"car":"r2","lap":35,"t":63.82,"gap":6.62},
{"car":"g2","lap":0,"t":0.1,"gap":0.1},{"car":"g2","lap":1,"t":4.03,"gap":0.3},{"car":"g2","lap":2,"t":6.15,"gap":0.9},{"car":"g2","lap":3,"t":8.39,"gap":1.7},{"car":"g2","lap":4,"t":10.23,"gap":2.01},{"car":"g2","lap":5,"t":11.74,"gap":1.99},{"car":"g2","lap":6,"t":13.72,"gap":2.45},{"car":"g2","lap":7,"t":15.4,"gap":2.52},{"car":"g2","lap":8,"t":17.13,"gap":2.64},{"car":"g2","lap":9,"t":18.83,"gap":2.81},{"car":"g2","lap":10,"t":20.44,"gap":2.9},{"car":"g2","lap":11,"t":22.09,"gap":3.02},{"car":"g2","lap":12,"t":23.76,"gap":3.17},{"car":"g2","lap":13,"t":25.43,"gap":3.31},{"car":"g2","lap":14,"t":27.17,"gap":3.53},{"car":"g2","lap":15,"t":28.92,"gap":3.67},{"car":"g2","lap":16,"t":30.6,"gap":3.74},{"car":"g2","lap":17,"t":32.15,"gap":3.84},{"car":"g2","lap":18,"t":33.88,"gap":4.05},{"car":"g2","lap":19,"t":36.78,"gap":5.42},{"car":"g2","lap":20,"t":38.76,"gap":5.88},{"car":"g2","lap":21,"t":40.48,"gap":6.07},{"car":"g2","lap":22,"t":42.19,"gap":4.99},{"car":"g2","lap":23,"t":43.91,"gap":5.01},{"car":"g2","lap":24,"t":45.55,"gap":5.13},{"car":"g2","lap":25,"t":47.2,"gap":5.25},{"car":"g2","lap":26,"t":48.82,"gap":5.35},{"car":"g2","lap":27,"t":50.64,"gap":5.56},{"car":"g2","lap":28,"t":52.26,"gap":5.73},{"car":"g2","lap":29,"t":53.9,"gap":5.85},{"car":"g2","lap":30,"t":55.55,"gap":5.97},{"car":"g2","lap":31,"t":57.22,"gap":6.12},{"car":"g2","lap":32,"t":58.89,"gap":6.26},{"car":"g2","lap":33,"t":60.7,"gap":6.55},{"car":"g2","lap":34,"t":62.37,"gap":6.69},{"car":"g2","lap":35,"t":64.08,"gap":6.88},
{"car":"b2","lap":0,"t":0.1,"gap":0.1},{"car":"b2","lap":1,"t":3.98,"gap":0.25},{"car":"b2","lap":2,"t":5.75,"gap":0.5},{"car":"b2","lap":3,"t":7.49,"gap":0.8},{"car":"b2","lap":4,"t":9.32,"gap":1.1},{"car":"b2","lap":5,"t":11.1,"gap":1.35},{"car":"b2","lap":6,"t":14.05,"gap":2.78},{"car":"b2","lap":7,"t":15.85,"gap":2.97},{"car":"b2","lap":8,"t":17.68,"gap":3.19},{"car":"b2","lap":9,"t":19.35,"gap":3.33},{"car":"b2","lap":10,"t":20.97,"gap":3.43},{"car":"b2","lap":11,"t":22.64,"gap":3.57},{"car":"b2","lap":12,"t":24.28,"gap":3.69},{"car":"b2","lap":13,"t":25.93,"gap":3.81},{"car":"b2","lap":14,"t":27.6,"gap":3.96},{"car":"b2","lap":15,"t":29.33,"gap":4.08},{"car":"b2","lap":16,"t":31.06,"gap":4.2},{"car":"b2","lap":17,"t":32.63,"gap":4.32},{"car":"b2","lap":18,"t":34.27,"gap":4.44},{"car":"b2","lap":19,"t":35.92,"gap":4.56},{"car":"b2","lap":20,"t":37.6,"gap":4.72},{"car":"b2","lap":21,"t":39.28,"gap":4.87},{"car":"b2","lap":22,"t":40.96,"gap":3.76},{"car":"b2","lap":23,"t":42.59,"gap":3.69},{"car":"b2","lap":24,"t":44.18,"gap":3.76},{"car":"b2","lap":25,"t":46.82,"gap":4.87},{"car":"b2","lap":26,"t":50.11,"gap":6.64},{"car":"b2","lap":27,"t":51.99,"gap":6.91},{"car":"b2","lap":28,"t":53.58,"gap":7.05},{"car":"b2","lap":29,"t":55.24,"gap":7.19},
{"car":"v2","lap":0,"t":0.1,"gap":0.1},{"car":"v2","lap":1,"t":4.03,"gap":0.3},{"car":"v2","lap":2,"t":5.85,"gap":0.6},{"car":"v2","lap":3,"t":7.59,"gap":0.9},{"car":"v2","lap":4,"t":9.42,"gap":1.2},{"car":"v2","lap":5,"t":11.35,"gap":1.6},{"car":"v2","lap":6,"t":13.67,"gap":2.4},{"car":"v2","lap":7,"t":15.81,"gap":2.93},{"car":"v2","lap":8,"t":17.54,"gap":3.05},{"car":"v2","lap":9,"t":19.21,"gap":3.19},{"car":"v2","lap":10,"t":20.8,"gap":3.26},{"car":"v2","lap":11,"t":22.38,"gap":3.31},{"car":"v2","lap":12,"t":24.09,"gap":3.5},{"car":"v2","lap":13,"t":26.0,"gap":3.88},{"car":"v2","lap":14,"t":28.15,"gap":4.51},{"car":"v2","lap":15,"t":29.88,"gap":4.63},{"car":"v2","lap":16,"t":31.54,"gap":4.68},{"car":"v2","lap":17,"t":33.15,"gap":4.84},{"car":"v2","lap":18,"t":35.01,"gap":5.18},{"car":"v2","lap":19,"t":36.64,"gap":5.28},{"car":"v2","lap":20,"t":39.67,"gap":6.79},{"car":"v2","lap":21,"t":41.41,"gap":7.0},{"car":"v2","lap":22,"t":43.03,"gap":5.83},{"car":"v2","lap":23,"t":44.7,"gap":5.8},{"car":"v2","lap":24,"t":46.32,"gap":5.9},{"car":"v2","lap":25,"t":48.47,"gap":6.52},{"car":"v2","lap":26,"t":50.64,"gap":7.17},
{"car":"gy","lap":0,"t":0.2,"gap":0.2},{"car":"gy","lap":1,"t":4.18,"gap":0.45},{"car":"gy","lap":2,"t":6.45,"gap":1.2},{"car":"gy","lap":3,"t":9.83,"gap":3.14},{"car":"gy","lap":4,"t":11.46,"gap":3.24},{"car":"gy","lap":5,"t":12.96,"gap":3.21},
{"car":"s","lap":0,"t":0.08,"gap":0.08},{"car":"s","lap":1,"t":3.93,"gap":0.2},{"car":"s","lap":2,"t":5.58,"gap":0.33},{"car":"s","lap":3,"t":7.14,"gap":0.45},{"car":"s","lap":4,"t":8.8,"gap":0.58},{"car":"s","lap":5,"t":10.43,"gap":0.68},{"car":"s","lap":6,"t":12.05,"gap":0.78},{"car":"s","lap":7,"t":13.74,"gap":0.86},{"car":"s","lap":8,"t":15.43,"gap":0.94},{"car":"s","lap":9,"t":17.02,"gap":1.0},{"car":"s","lap":10,"t":18.61,"gap":1.07},{"car":"s","lap":11,"t":20.22,"gap":1.15},{"car":"s","lap":12,"t":21.79,"gap":1.2},{"car":"s","lap":13,"t":23.47,"gap":1.35},{"car":"s","lap":14,"t":26.44,"gap":2.8},{"car":"s","lap":15,"t":28.15,"gap":2.9},{"car":"s","lap":16,"t":29.81,"gap":2.95},{"car":"s","lap":17,"t":31.26,"gap":2.95},{"car":"s","lap":18,"t":32.83,"gap":3.0},{"car":"s","lap":19,"t":34.56,"gap":3.2},{"car":"s","lap":20,"t":36.18,"gap":3.3},{"car":"s","lap":21,"t":37.76,"gap":3.35},{"car":"s","lap":22,"t":39.31,"gap":2.11},
{"car":"lby","lap":0,"t":0.1,"gap":0.1},{"car":"lby","lap":1,"t":4.03,"gap":0.3},{"car":"lby","lap":2,"t":5.75,"gap":0.5},{"car":"lby","lap":3,"t":7.39,"gap":0.7},{"car":"lby","lap":4,"t":9.12,"gap":0.9},{"car":"lby","lap":5,"t":10.8,"gap":1.05},{"car":"lby","lap":6,"t":12.47,"gap":1.2},{"car":"lby","lap":7,"t":14.23,"gap":1.35},{"car":"lby","lap":8,"t":15.99,"gap":1.5},{"car":"lby","lap":9,"t":17.72,"gap":1.7},{"car":"lby","lap":10,"t":19.46,"gap":1.92},{"car":"lby","lap":11,"t":21.08,"gap":2.01},{"car":"lby","lap":12,"t":22.68,"gap":2.09},{"car":"lby","lap":13,"t":24.33,"gap":2.21},{"car":"lby","lap":14,"t":25.92,"gap":2.28},{"car":"lby","lap":15,"t":27.6,"gap":2.35},{"car":"lby","lap":16,"t":29.23,"gap":2.37},{"car":"lby","lap":17,"t":30.68,"gap":2.37},{"car":"lby","lap":18,"t":32.47,"gap":2.64},{"car":"lby","lap":19,"t":34.12,"gap":2.76},{"car":"lby","lap":20,"t":37.15,"gap":4.27}
]},
"layer":[
{"data":{"name":"laps"},"mark":{"type":"rule","stroke":"#cfcfcf","strokeWidth":1},
 "encoding":{"x":{"field":"t","type":"quantitative","scale":{"domain":[0,65.25],"nice":false,"zero":false},
  "axis":{"orient":"top","values":[1.87,4.49,5.97,7.46,8.99,10.51,12.08,13.69,15.26,16.78,18.31,19.83,21.36,22.88,24.45,26.06,27.59,29.07,30.6,32.12,33.65,35.81,38.05,39.66,41.19,42.71,44.28,45.81,47.29,48.82,50.34,51.87,53.39,54.92,56.44,57.97,59.49,60.76,61.36],
  "labelExpr":"indexof([1.87,4.49,5.97,7.46,8.99,10.51,12.08,13.69,15.26,16.78,18.31,19.83,21.36,22.88,24.45,26.06,27.59,29.07,30.6,32.12,33.65,35.81,38.05,39.66,41.19,42.71,44.28,45.81,47.29,48.82,50.34,51.87,53.39,54.92,56.44,57.97,59.49,60.76,61.36], datum.value) + 1",
  "ticks":false,"domain":false,"grid":false,"title":null,"labelFontSize":11.5,"labelPadding":5,"labelColor":"#000000","labelFlush":false,"labelOverlap":false,"labelFont":"DejaVu Sans"}}}},
{"data":{"name":"minor"},"mark":{"type":"rule","stroke":"#cfcfcf","strokeWidth":1},
 "encoding":{"y":{"field":"gap","type":"quantitative","scale":{"domain":[-0.767,7.554],"reverse":true,"nice":false,"zero":false},"axis":null},
  "x":{"datum":0,"type":"quantitative","scale":{"domain":[0,65.25],"nice":false,"zero":false},"axis":null},"x2":{"datum":61.53}}},
{"data":{"name":"major"},"mark":{"type":"rule","stroke":"#858585","strokeWidth":1},
 "encoding":{"y":{"field":"gap","type":"quantitative","scale":{"domain":[-0.767,7.554],"reverse":true,"nice":false,"zero":false},
  "axis":{"orient":"left","values":[0,1,2,3,4,5,6,7],"labelExpr":"'+' + datum.value + \"'\"","ticks":false,"domain":false,"grid":false,"title":null,"labelFontSize":9.5,"labelPadding":8,"labelColor":"#000000","labelFont":"DejaVu Sans"}},
  "x":{"datum":0,"type":"quantitative","scale":{"domain":[0,65.25],"nice":false,"zero":false},"axis":null},"x2":{"datum":62.71}}},
{"data":{"name":"race"},"transform":[{"filter":"datum.lap > 0 && !(datum.car == 'v' && datum.lap == 39)"}],
 "mark":{"type":"line","strokeWidth":1,"strokeDash":[4,3]},
 "encoding":{"x":{"field":"t","type":"quantitative","scale":{"domain":[0,65.25],"nice":false,"zero":false},"axis":null},
  "y":{"field":"gap","type":"quantitative","scale":{"domain":[-0.767,7.554],"reverse":true,"nice":false,"zero":false},"axis":null},
  "detail":{"field":"lap","type":"nominal"},"order":{"field":"gap","type":"quantitative"},
  "stroke":{"condition":[{"test":"datum.lap == 38","value":"#e6b3ff"},{"test":"(datum.lap >= 8 && datum.lap <= 10) || datum.lap >= 16","value":"#ffb0b0"}],"value":"#acdfac"}}},
{"data":{"name":"race"},"mark":{"type":"line","strokeWidth":2.4},
 "encoding":{"x":{"field":"t","type":"quantitative","scale":{"domain":[0,65.25],"nice":false,"zero":false},"axis":null},
  "y":{"field":"gap","type":"quantitative","scale":{"domain":[-0.767,7.554],"reverse":true,"nice":false,"zero":false},"axis":null},
  "stroke":{"field":"car","type":"nominal","scale":{"domain":["r","g","b","v","dgy","gl","pk","dg","lb","k","y","dp","pb","c","n","ny","o","lg","r2","g2","b2","v2","gy","s","lby"],"range":["#ff0000","#00c800","#0000ff","#cc44ff","#229922","#a8a8a8","#ff88aa","#229922","#1e96ff","#333333","#dddd00","#993399","#882288","#33cccc","#2222bb","#2222aa","#888855","#aac477","#ff0000","#00c800","#0000ff","#cc44ff","#999999","#ff8899","#1e96ff"]},"legend":null},
  "order":{"field":"lap","type":"quantitative"}}},
{"data":{"name":"race"},"mark":{"type":"point","shape":"circle","filled":true,"size":32,"strokeWidth":1.3,"opacity":1},
 "encoding":{"x":{"field":"t","type":"quantitative","scale":{"domain":[0,65.25],"nice":false,"zero":false},"axis":null},
  "y":{"field":"gap","type":"quantitative","scale":{"domain":[-0.767,7.554],"reverse":true,"nice":false,"zero":false},"axis":null},
  "stroke":{"field":"car","type":"nominal","scale":{"domain":["r","g","b","v","dgy","gl","pk","dg","lb","k","y","dp","pb","c","n","ny","o","lg","r2","g2","b2","v2","gy","s","lby"],"range":["#ff0000","#00c800","#0000ff","#cc44ff","#229922","#a8a8a8","#ff88aa","#229922","#1e96ff","#333333","#dddd00","#993399","#882288","#33cccc","#2222bb","#2222aa","#888855","#aac477","#ff0000","#00c800","#0000ff","#cc44ff","#999999","#ff8899","#1e96ff"]},"legend":null},
  "fill":{"field":"car","type":"nominal","scale":{"domain":["r","g","b","v","dgy","gl","pk","dg","lb","k","y","dp","pb","c","n","ny","o","lg","r2","g2","b2","v2","gy","s","lby"],"range":["#ffffff","#ffffff","#ffffff","#ffffff","#ffff00","#ffffff","#ffffff","#ffffff","#ffffff","#ffffff","#ffff00","#ffffff","#ffffff","#ffffff","#ffffff","#ffff00","#ffffff","#ffffff","#ffff00","#ffff00","#ffff00","#ffff00","#ffff00","#ffff00","#ffff00"]},"legend":null}}},
{"data":{"values":[{}]},"mark":{"type":"rule","stroke":"#000000","strokeWidth":1.5},
 "encoding":{"x":{"datum":0,"type":"quantitative","scale":{"domain":[0,65.25],"nice":false,"zero":false},"axis":null},"x2":{"datum":62.6},
  "y":{"datum":-0.767,"type":"quantitative","scale":{"domain":[-0.767,7.554],"reverse":true,"nice":false,"zero":false},"axis":null}}},
{"data":{"values":[{}]},"mark":{"type":"point","shape":"triangle-right","filled":true,"color":"#000000","size":70,"opacity":1},
 "encoding":{"x":{"datum":62.85,"type":"quantitative","scale":{"domain":[0,65.25],"nice":false,"zero":false},"axis":null},
  "y":{"datum":-0.767,"type":"quantitative","scale":{"domain":[-0.767,7.554],"reverse":true,"nice":false,"zero":false},"axis":null}}},
{"data":{"values":[{}]},"mark":{"type":"rule","stroke":"#000000","strokeWidth":1.5},
 "encoding":{"x":{"datum":0,"type":"quantitative","scale":{"domain":[0,65.25],"nice":false,"zero":false},"axis":null},
  "y":{"datum":-0.767,"type":"quantitative","scale":{"domain":[-0.767,7.554],"reverse":true,"nice":false,"zero":false},"axis":null},"y2":{"datum":7.38}}},
{"data":{"values":[{}]},"mark":{"type":"point","shape":"triangle-down","filled":true,"color":"#000000","size":70,"opacity":1},
 "encoding":{"x":{"datum":0,"type":"quantitative","scale":{"domain":[0,65.25],"nice":false,"zero":false},"axis":null},
  "y":{"datum":7.45,"type":"quantitative","scale":{"domain":[-0.767,7.554],"reverse":true,"nice":false,"zero":false},"axis":null}}},
{"data":{"values":[{}]},"mark":{"type":"text","text":"Time","fontSize":16,"font":"DejaVu Sans","color":"#000000","align":"center","baseline":"middle"},
 "encoding":{"x":{"datum":61.86,"type":"quantitative","scale":{"domain":[0,65.25],"nice":false,"zero":false},"axis":null},
  "y":{"datum":-0.56,"type":"quantitative","scale":{"domain":[-0.767,7.554],"reverse":true,"nice":false,"zero":false},"axis":null}}},
{"data":{"values":[{}]},"mark":{"type":"text","text":"Gap","fontSize":16,"font":"DejaVu Sans","color":"#000000","align":"center","baseline":"middle"},
 "encoding":{"x":{"datum":-0.47,"type":"quantitative","scale":{"domain":[0,65.25],"nice":false,"zero":false},"axis":null},
  "y":{"datum":7.82,"type":"quantitative","scale":{"domain":[-0.767,7.554],"reverse":true,"nice":false,"zero":false},"axis":null}}}
]
}
